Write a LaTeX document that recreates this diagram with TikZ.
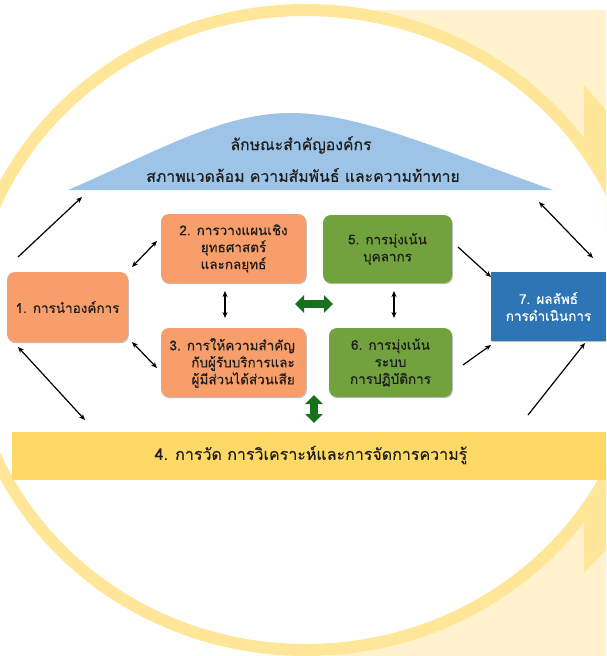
\documentclass[tikz,border=0pt]{standalone}
\usepackage{fontspec}
\newfontfamily\thaifont[Script=Thai,FakeBold=0.4]{Loma}
\usetikzlibrary{arrows.meta,shadows}
\definecolor{ringY}{RGB}{255,230,153}
\definecolor{lightY}{RGB}{255,242,204}
\definecolor{bandY}{RGB}{255,217,102}
\definecolor{hillB}{RGB}{157,195,230}
\definecolor{orangeB}{RGB}{248,158,106}
\definecolor{greenB}{RGB}{114,162,62}
\definecolor{blueB}{RGB}{46,117,182}
\definecolor{dgreen}{RGB}{22,112,28}
\definecolor{txt}{RGB}{30,30,30}
\begin{document}
\begin{tikzpicture}[x=1pt,y=-1pt,
  boxbase/.style={rounded corners=8pt, inner sep=0pt, text=txt, font=\thaifont\fontsize{13.5}{17}\selectfont,
    drop shadow={shadow xshift=0.8pt,shadow yshift=-1.2pt,opacity=0.25,fill=black}},
  obox/.style={boxbase, fill=orangeB},
  gbox/.style={boxbase, fill=greenB},
  conn/.style={line width=1.2pt, black},
  tip/.style={-{Stealth[length=6pt,width=5pt]}},
  dtip/.style={{Stealth[length=6pt,width=5pt]}-{Stealth[length=6pt,width=5pt]}},
  garrow/.style={dgreen, line width=8pt, {Triangle[length=9pt,width=17pt]}-{Triangle[length=9pt,width=17pt]}},
  bigtext/.style={text=txt, font=\thaifont\fontsize{15.8}{19}\selectfont}
]
\useasboundingbox (0,0) rectangle (606,656);
\begin{scope}
\clip (0,0) rectangle (606,656);
% background decoration
\fill[lightY] (300,10) -- (606,10) -- (606,110) -- (584,85) -- (584,230) -- (300,230) -- cycle;
\fill[ringY] (584,85) -- (606,110) -- (606,230) -- (584,230) -- cycle;
\fill[lightY] (330,656) -- (606,656) -- (606,550) -- (584,573) -- (584,440) -- (330,440) -- cycle;
\fill[ringY] (584,440) -- (606,440) -- (606,550) -- (584,573) -- cycle;
\fill[white] (306,330) ellipse [x radius=332pt, y radius=314pt];
\draw[ringY, line width=12pt] (306,330) ellipse [x radius=338pt, y radius=320pt];
% hill
\fill[hillB] (68,190) .. controls (150,155) and (220,113) .. (290,113)
  .. controls (360,113) and (440,150) .. (553,190) -- cycle;
\node[bigtext] (hill1) at (301,145) {ลักษณะสำคัญองค์กร};
\node[bigtext] (hill2) at (303,175) {สภาพแวดล้อม ความสัมพันธ์ และความท้าทาย};
% band 4
\node[fill=bandY, minimum width=594pt, minimum height=48pt, inner sep=0pt, anchor=north west] (b4) at (12,432) {};
\node[bigtext, font=\thaifont\fontsize{16}{19}\selectfont] (t4) at (311,455) {4. การวัด การวิเคราะห์และการจัดการความรู้};
% boxes
\node[obox, minimum width=121pt, minimum height=70pt] (b1) at (67.5,307) {1. การนำองค์การ};
\node[obox, minimum width=145pt, minimum height=69pt, align=center] (b2) at (233.5,248.5)
  {2. การวางแผนเชิง\\ยุทธศาสตร์\\และกลยุทธ์};
\node[obox, minimum width=145pt, minimum height=69pt] (b3) at (233.5,362.5) {};
\node[text=txt, font=\thaifont\fontsize{13.5}{17}\selectfont, align=right, anchor=east, inner sep=0pt] (t3) at (295,363)
  {3. การให้ความสำคัญ\\กับผู้รับบริการและ\\ผู้มีส่วนได้ส่วนเสีย};
\node[gbox, minimum width=129pt, minimum height=68pt, align=center] (b5) at (387.5,249)
  {5. การมุ่งเน้น\\บุคลากร};
\node[gbox, minimum width=123pt, minimum height=69pt, align=center] (b6) at (390.5,362.5)
  {6. การมุ่งเน้น\\ระบบ\\การปฏิบัติการ};
\node[fill=blueB, minimum width=115pt, minimum height=69pt, inner sep=0pt, align=center, text=white,
  font=\thaifont\fontsize{13.5}{17}\selectfont,
  drop shadow={shadow xshift=0.8pt,shadow yshift=-1.2pt,opacity=0.25,fill=black}] (b7) at (548.5,306.5)
  {7. ผลลัพธ์\\การดำเนินการ};
% connector end points
\coordinate (a1s) at (18,257); \coordinate (a1e) at (82,197);
\coordinate (a2s) at (18,347); \coordinate (a2e) at (85,420);
\coordinate (a3s) at (132,267); \coordinate (a3e) at (157,241);
\coordinate (a4s) at (132,342); \coordinate (a4e) at (157,368);
\coordinate (a5s) at (225,291); \coordinate (a5e) at (225,318);
\coordinate (a6s) at (394,291); \coordinate (a6e) at (394,318);
\coordinate (a7s) at (458,247); \coordinate (a7e) at (491,277);
\coordinate (a8s) at (463,365); \coordinate (a8e) at (491,345);
\coordinate (a9s) at (539,202); \coordinate (a9e) at (593,258);
\coordinate (a10s) at (528,415); \coordinate (a10e) at (585,343);
\coordinate (gh1) at (295,304); \coordinate (gh2) at (333,304);
\coordinate (gv1) at (314,395); \coordinate (gv2) at (314,423);
\draw[conn, tip] (a1s) -- (a1e);
\draw[conn, dtip] (a2s) -- (a2e);
\draw[conn, dtip] (a3s) -- (a3e);
\draw[conn, dtip] (a4s) -- (a4e);
\draw[conn, dtip] (a5s) -- (a5e);
\draw[conn, dtip] (a6s) -- (a6e);
\draw[conn, tip] (a7s) -- (a7e);
\draw[conn, tip] (a8s) -- (a8e);
\draw[conn, dtip] (a9s) -- (a9e);
\draw[conn, tip] (a10s) -- (a10e);
\draw[garrow] (gh1) -- (gh2);
\draw[garrow] (gv1) -- (gv2);
\end{scope}
\end{tikzpicture}
\end{document}
